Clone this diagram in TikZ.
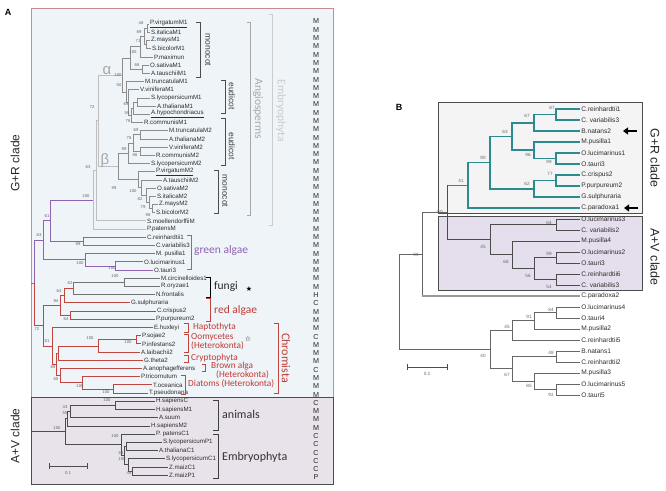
\documentclass[tikz,border=0pt]{standalone}
\usepackage{fontspec}
\setmainfont{Liberation Sans}
\newfontfamily\carlfont{Carlito}
\newfontfamily\symfont{DejaVu Sans}
\usetikzlibrary{arrows.meta}
\definecolor{boxA}{HTML}{EEF4F8}
\definecolor{boxAb}{HTML}{C48E8C}
\definecolor{avA}{HTML}{E8E2EB}
\definecolor{plantg}{HTML}{8C8C8C}
\definecolor{lightg}{HTML}{BEBEBE}
\definecolor{angg}{HTML}{A8A8A8}
\definecolor{embg}{HTML}{CBCBCB}
\definecolor{purp}{HTML}{8F62B2}
\definecolor{redc}{HTML}{C0473F}
\definecolor{redt}{HTML}{C23A34}
\definecolor{tealB}{HTML}{2B8B8E}
\definecolor{grB}{HTML}{F4F4F4}
\definecolor{avB}{HTML}{E5DEEC}
\begin{document}
\begin{tikzpicture}[x=1pt,y=-1pt,
  lf/.style={anchor=west,inner sep=0.8pt,font=\fontsize{6.2}{6.5}\selectfont,text=black!82},
  lfb/.style={anchor=west,inner sep=1.2pt,font=\fontsize{6.6}{7}\selectfont,text=black!82},
  sv/.style={inner sep=0pt,font=\fontsize{4.2}{4.5}\selectfont,text=black!60},
  svb/.style={inner sep=0pt,font=\fontsize{4.6}{5}\selectfont,text=black!60},
  pg/.style={draw=plantg,line width=0.6pt},
  sp/.style={draw=lightg,line width=0.7pt},
  gn/.style={draw=purp,line width=0.7pt},
  rd/.style={draw=redc,line width=0.7pt},
  fg/.style={draw=black!55,line width=0.6pt},
  avl/.style={draw=black!70,line width=0.6pt},
  tl/.style={draw=tealB,line width=1.6pt},
  bv/.style={draw=black!70,line width=0.8pt},
  bw/.style={draw=black!60,line width=0.8pt},
  cpl/.style={draw=black!40,line width=2.2pt},
  brk/.style={line width=0.8pt},
  ann/.style={anchor=west,inner sep=0pt,font=\carlfont\fontsize{11.5}{12}\selectfont},
  annr/.style={anchor=west,inner sep=0pt,font=\carlfont\fontsize{9.3}{9.5}\selectfont,text=redt},
  vtx/.style={rotate=-90,inner sep=0pt},
  mc/.style={inner sep=0pt,font=\fontsize{7.2}{7.2}\selectfont,text=black!85},
  side/.style={inner sep=0pt,font=\fontsize{12}{12}\selectfont,text=black!85},
]
\useasboundingbox (0,0) rectangle (666,490);

% ================= PANEL A =================
\path[fill=boxA,draw=boxAb,line width=0.8pt] (31,8) rectangle (333,397);
\path[fill=avA,draw=black!70,line width=0.8pt] (31,397) rectangle (333,484);
\node[font=\bfseries\fontsize{9}{9}\selectfont] (labA) at (8,12) {A};
\node[side,rotate=90] (grAlab) at (15,163) {G+R clade};
\node[side,rotate=90] (avAlab) at (15,436) {A+V clade};

\foreach \k/\x/\t in {
1/149/{\underline{P.virgatumM1}},
2/150/S.italicaM1,
3/150/Z.maysM1,
4/151/S.bicolorM1,
5/153/P.maximun,
6/149/O.sativaM1,
7/150/A.tauschiiM1,
8/144/M.truncatulaM1,
9/139/V.viniferaM1,
10/150/S.lycopersicumM1,
11/156/A.thalianaM1,
12/150/{\underline{A.hypochondriacus}},
13/143/R.communisM1,
14/168/M.truncatulaM2,
15/168/A.thalianaM2,
16/168/V.viniferaM2,
17/155/R.communisM2,
18/150/S.lycopersicumM2,
19/155/{\underline{P.virgatumM2}},
20/162/A.tauschiiM2,
21/156/O.sativaM2,
22/156/S.italicaM2,
23/158/Z.maysM2,
24/155/S.bicolorM2,
25/146/S.moellendorffiiM,
26/146/P.patensM,
27/146/C.reinhardtii1,
28/155/C.variabilis3,
29/155/M. pusilla1,
30/143/O.lucimarinus1,
31/153/O.tauri3,
32/160/M.circinelloides1,
33/160/R.oryzae1,
34/155/N.frontalis,
35/130/G.sulphuraria,
36/156/C.crispus2,
37/155/P.purpureum2,
38/153/E.huxleyi,
39/141/P.sojae2,
40/141/P.infestans2,
41/140/A.laibachii2,
42/143/G.theta2,
43/142/A.anophagefferens,
44/140/P.tricornutum,
45/152/T.oceanica,
46/148/T.pseudonana,
47/155/H.sapiensC,
48/155/H.sapiensM1,
49/158/A.suum,
50/150/H.sapiensM2,
51/155/P. patensC1,
52/162/S.lycopersicumP1,
53/158/A.thalianaC1,
54/165/S.lycopersicumC1,
55/168/Z.maizC1,
56/168/Z.maizP1}
  {\pgfmathsetmacro\yy{24+8.2*(\k-1)}
   \node[lf] (L\k) at (\x,\yy) {\t};}

% internal nodes of tree A
\foreach \nm/\x/\r in {
a1/147/1.5, a3/146/3.5, a2/144/2.5, a4/140/3.75, a5/142/6.5, a6/130/5.125,
e1/137/10.5, e2/133/11.25, e3/131/12.125, e4/128/10.5625, e5/126/9.28125, al/122/7.203,
b1/140/14.5, b2/140/16.5, b3/133/15.5, b4/128/16.75,
m1/152/23.5, m2/149/22.75, m3/146/21.875, m4/141/20.9375, m5/138/19.96875, be/118/18.359,
ab/98/12.781, n63/96/18.89, n100/93/22.445,
g1/83/27.5, g2/115/30.5, g3/85/29.75, n61/50/24.97, n63g/43/27.36,
f1/124/32.5, f2/73/33.25, f3/64/34.125, r1n/70/36.5, f4/60/35.31,
o1/136/39.5, o2/98/40.25, o3/58/41.125, d1/113/45.5, d2/82/44.75, d3/60/43.875,
c1/56/42.5, c2/52/40.25, rc/43/37.78, gr/34/32.57, gstem/31/32.57,
h1/115/47.5, h2/70/48.25, h3/67/49.125, p1/126/52.5, p2/132/55.5, p3/128/54.75,
p4/124/53.625, p5/121/52.31, av/65/50.72, avstem/31/50.72}
  {\pgfmathsetmacro\yy{24+8.2*(\r-1)}
   \coordinate (\nm) at (\x,\yy);}

\draw[pg] (a1)|-(L1.west) (a1)|-(L2.west) (a3)|-(L3.west) (a3)|-(L4.west)
  (a2)|-(a1) (a2)|-(a3) (a4)|-(a2) (a4)|-(L5.west) (a5)|-(L6.west) (a5)|-(L7.west)
  (a6)|-(a4) (a6)|-(a5)
  (e1)|-(L10.west) (e1)|-(L11.west) (e2)|-(e1) (e2)|-(L12.west) (e3)|-(e2) (e3)|-(L13.west)
  (e4)|-(L9.west) (e4)|-(e3) (e5)|-(L8.west) (e5)|-(e4) (al)|-(a6) (al)|-(e5)
  (b1)|-(L14.west) (b1)|-(L15.west) (b2)|-(L16.west) (b2)|-(L17.west) (b3)|-(b1) (b3)|-(b2)
  (b4)|-(b3) (b4)|-(L18.west)
  (m1)|-(L23.west) (m1)|-(L24.west) (m2)|-(L22.west) (m2)|-(m1) (m3)|-(L21.west) (m3)|-(m2)
  (m4)|-(L20.west) (m4)|-(m3) (m5)|-(L19.west) (m5)|-(m4) (be)|-(b4) (be)|-(m5);
\draw[sp] (ab)|-(al) (ab)|-(be) (n63)|-(ab) (n63)|-(L25.west) (n100)|-(n63) (n100)|-(L26.west);
\draw[gn] (g1)|-(L27.west) (g1)|-(L28.west) (g2)|-(L30.west) (g2)|-(L31.west)
  (g3)|-(L29.west) (g3)|-(g2) (n61)|-(n100) (n61)|-(g1) (n63g)|-(n61) (n63g)|-(g3)
  (gr)|-(n63g) (gstem)--(gr);
\draw[fg] (f1)|-(L32.west) (f1)|-(L33.west) (f2)|-(f1) (f2)|-(L34.west);
\draw[rd] (f3)|-(f2) (f3)|-(L35.west) (r1n)|-(L36.west) (r1n)|-(L37.west) (f4)|-(f3) (f4)|-(r1n)
  (o1)|-(L39.west) (o1)|-(L40.west) (o2)|-(o1) (o2)|-(L41.west) (o3)|-(o2) (o3)|-(L42.west)
  (d1)|-(L45.west) (d1)|-(L46.west) (d2)|-(L44.west) (d2)|-(d1) (d3)|-(L43.west) (d3)|-(d2)
  (c1)|-(o3) (c1)|-(d3) (c2)|-(L38.west) (c2)|-(c1) (rc)|-(f4) (rc)|-(c2) (gr)|-(rc);
\draw[avl] (h1)|-(L47.west) (h1)|-(L48.west) (h2)|-(h1) (h2)|-(L49.west) (h3)|-(h2) (h3)|-(L50.west)
  (p1)|-(L52.west) (p1)|-(L53.west) (p2)|-(L55.west) (p2)|-(L56.west) (p3)|-(L54.west) (p3)|-(p2)
  (p4)|-(p1) (p4)|-(p3) (p5)|-(L51.west) (p5)|-(p4) (av)|-(h3) (av)|-(p5) (avstem)--(av);

% support values A
\foreach \t/\x/\y [count=\i] in {48/141/23, 89/139/32, 71/138/41, 100/133/52, 68/137/65, 100/118/75,
  50/119/85, 69/126/104, 59/127/113, 78/128/121, 72/92/107, 69/136/130, 78/129/138, 99/124/149,
  86/135/155, 63/88/167, 99/114/188, 100/133/191, 82/140/199, 79/143/207, 98/148/215, 100/86/196,
  61/47/216, 63/39/235, 99/78/244, 100/80/263, 100/112/268, 100/115/276, 62/70/283, 64/59/291,
  94/56/301, 64/66/319, 72/37/329, 81/47/341, 100/128/342, 100/90/338, 69/53/367, 60/56/379,
  100/80/386, 100/106/392, 100/107/400, 43/65/407, 55/65/413, 100/57/428, 100/115/436,
  64/121/453, 100/122/459, 49/129/473}
  {\node[sv] (sa\i) at (\x,\y) {\t};}

\node[text=angg,font=\fontsize{15}{15}\selectfont,inner sep=0pt] (alpha) at (107,71) {α};
\node[text=angg,font=\fontsize{15}{15}\selectfont,inner sep=0pt] (beta) at (105,161) {β};

% scale bar A
\draw[black!70,line width=0.7pt] (49,463)--(49,469) (49,466)--(87,466) (87,463)--(87,469);
\node[sv] (scA) at (68,473) {0.1};

% brackets & annotations A
\draw[brk,black!70] (196,22)--(200,22)--(200,77)--(196,77);
\node[vtx,font=\fontsize{8.5}{9}\selectfont,text=black!75] (mono1) at (208,50) {monocot};
\draw[brk,black!70] (221,80)--(225,80)--(225,113)--(221,113);
\node[vtx,font=\fontsize{8.5}{9}\selectfont,text=black!75] (eud1) at (232,96) {eudicot};
\draw[brk,black!70] (221,118)--(225,118)--(225,165)--(221,165);
\node[vtx,font=\fontsize{8.5}{9}\selectfont,text=black!75] (eud2) at (232,146) {eudicot};
\draw[brk,black!70] (214,170)--(218,170)--(218,213)--(214,213);
\node[vtx,font=\fontsize{8.5}{9}\selectfont,text=black!75] (mono2) at (225,191) {monocot};
\draw[brk,angg] (247,22)--(250,22)--(250,215)--(247,215);
\node[vtx,font=\carlfont\fontsize{11.5}{12}\selectfont,text=angg] (angio) at (258,109) {Angiosperms};
\draw[brk,embg] (269,14)--(272,14)--(272,225)--(269,225);
\node[vtx,font=\carlfont\fontsize{11.5}{12}\selectfont,text=embg] (embA) at (281,111) {Embryophyta};

\draw[brk,purp] (187,235)--(191,235)--(191,269)--(187,269);
\node[ann,text=purp] (green) at (194,250) {green algae};
\draw[brk,black] (206,277)--(210,277)--(210,297)--(206,297);
\node[ann,text=black!85] (fungi) at (214,287) {fungi};
\node[font=\symfont\fontsize{7}{7}\selectfont,inner sep=0pt] (bstar) at (249,289) {★};
\draw[brk,redc] (206,298)--(210,298)--(210,321)--(206,321);
\node[ann,text=redt] (redal) at (214,310) {red algae};

\draw[brk,redc] (184,323)--(188,323)--(188,332)--(184,332);
\node[annr] (hapto) at (193,327) {Haptothyta};
\draw[brk,redc] (184,334)--(188,334)--(188,352)--(184,352);
\node[annr] (oomy) at (191,337) {Oomycetes};
\node[annr] (oomy2) at (191,346) {(Heterokonta)};
\node[font=\symfont\fontsize{7}{7}\selectfont,inner sep=0pt] (wstar) at (248,339) {☆};
\draw[brk,redc] (184,355)--(188,355)--(188,362)--(184,362);
\node[annr] (crypto) at (191,358) {Cryptophyta};
\draw[brk,redc] (202,364)--(205,364)--(205,371)--(202,371);
\node[annr] (brown) at (211,366) {Brown alga};
\node[annr] (brown2) at (216,375) {(Heterokonta)};
\draw[brk,redc] (181,375)--(185,375)--(185,394)--(181,394);
\node[annr] (diat) at (188,384) {Diatoms (Heterokonta)};
\draw[brk,redc] (274,323)--(278,323)--(278,393)--(274,393);
\node[vtx,font=\carlfont\fontsize{12}{12}\selectfont,text=redt] (chrom) at (286,358) {Chromista};

\draw[brk,black!75] (213,400)--(218,400)--(218,430)--(213,430);
\node[ann,text=black!80,font=\carlfont\fontsize{12}{12}\selectfont] (anim) at (222,414) {animals};
\draw[brk,black!75] (213,434)--(218,434)--(218,478)--(213,478);
\node[ann,text=black!80,font=\carlfont\fontsize{12}{12}\selectfont] (embAV) at (222,457) {Embryophyta};

% compartment column
\foreach \l [count=\i] in {M,M,M,M,M,M,M,M,M,M,M,M,M,M,M,M,M,M,M,M,M,M,M,M,M,M,M,M,M,M,M,M,M,
  H,C,M,M,M,C,M,M,M,C,M,M,M,C,M,M,M,C,C,C,C,C,P}
  {\pgfmathsetmacro\yy{21.5+8.29*(\i-1)}
   \node[mc] (mc\i) at (316,\yy) {\l};}

% ================= PANEL B =================
\node[font=\bfseries\fontsize{9}{9}\selectfont] (labB) at (399,107) {B};
\path[fill=grB,draw=black!70,line width=0.8pt] (438,102) rectangle (642,213);
\path[fill=avB,draw=black!70,line width=0.8pt] (438,216) rectangle (642,290);
\node[side,rotate=-90,font=\fontsize{12.5}{12.5}\selectfont] (grBlab) at (655,158) {G+R clade};
\node[side,rotate=-90,font=\fontsize{12.5}{12.5}\selectfont] (avBlab) at (655,257) {A+V clade};

\foreach \t [count=\k] in {C.reinhardtii1, C. variabilis3, B.natans2, M.pusilla1, O.lucimarinus1,
  O.tauri3, C.crispus2, P.purpureum2, G.sulphuraria, C.paradoxa1, O.lucimarinus3, C. variabilis2,
  M.pusilla4, O.lucimarinus2, O.tauri3, C.reinhardtii6, C. variabilis3, C.paradoxa2,
  O.lucimarinus4, O.tauri4, M.pusilla2, C.reinhardtii5, B.natans1, C.reinhardtii2, M.pusilla3,
  O.lucimarinus5, O.tauri5}
  {\pgfmathsetmacro\yy{109+11*(\k-1)}
   \node[lfb] (B\k) at (580,\yy) {\t};}

\foreach \nm/\x/\r in {
t87/556/1.5, t67/534/2.25, t99/556/5.5, t96/534/4.75, t63/512/3.5, t77/556/7.5, t62/534/8.25,
t90/490/5.875, t41/468/7.9375,
v64/556/11.5, v99/556/14.5, v54/556/16.5, v56/534/15.5, v68/512/14.25, v45/490/12.875,
n60/447/10.406, n99/422/14.2,
w84/556/19.5, w91/534/20.25, w45/512/21.125, w48/556/23.5, w92/556/26.5, w85/534/25.75,
w67/512/24.625, w40/490/22.875, rootB/399/18.54}
  {\pgfmathsetmacro\yy{109+11*(\r-1)}
   \coordinate (\nm) at (\x,\yy);}

\draw[tl] (t87)|-(B1.west) (t87)|-(B2.west) (t67)|-(t87) (t67)|-(B3.west)
  (t99)|-(B5.west) (t99)|-(B6.west) (t96)|-(B4.west) (t96)|-(t99) (t63)|-(t67) (t63)|-(t96)
  (t77)|-(B7.west) (t77)|-(B8.west) (t62)|-(t77) (t62)|-(B9.west) (t90)|-(t63) (t90)|-(t62)
  (t41)|-(t90) (t41)|-(B10.west) (n60|-t41)--(t41);
\draw[bv] (v64)|-(B11.west) (v64)|-(B12.west) (v99)|-(B14.west) (v99)|-(B15.west)
  (v54)|-(B16.west) (v54)|-(B17.west) (v56)|-(v99) (v56)|-(v54) (v68)|-(B13.west) (v68)|-(v56)
  (v45)|-(v64) (v45)|-(v68) (n60)|-(v45) (n60)--(n60|-t41);
\draw[bw] (w84)|-(B19.west) (w84)|-(B20.west) (w91)|-(w84) (w91)|-(B21.west) (w45)|-(w91) (w45)|-(B22.west)
  (w48)|-(B23.west) (w48)|-(B24.west) (w92)|-(B26.west) (w92)|-(B27.west) (w85)|-(B25.west) (w85)|-(w92)
  (w67)|-(w48) (w67)|-(w85) (w40)|-(w45) (w40)|-(w67)
  (rootB)|-(n99) (rootB)|-(w40) (n99)|-(n60) (n99)--(n99|-B18.west);
\draw[cpl] (n99|-B18.west)--(B18.west);

\foreach \t/\x/\y [count=\i] in {87/552/108, 67/527/116, 63/505/132, 96/528/155, 99/549/162,
  77/550/174, 62/527/184, 90/483/158, 41/461/181, 64/549/223, 45/483/247, 68/506/262, 99/549/254,
  56/528/276, 54/549/287, 84/551/310, 91/529/317, 45/507/327, 40/483/356, 48/551/353, 67/507/375,
  85/529/386, 92/551/395, 99/416/255, 60/440/212}
  {\node[svb] (sb\i) at (\x,\y) {\t};}

% arrows
\coordinate (ar1s) at (637,131); \coordinate (ar1e) at (623,131);
\coordinate (ar2s) at (638,208); \coordinate (ar2e) at (624,208);
\draw[-{Triangle[length=5pt,width=7pt]},line width=2.2pt] (ar1s)--(ar1e);
\draw[-{Triangle[length=5pt,width=7pt]},line width=2.2pt] (ar2s)--(ar2e);

% scale bar B
\draw[black!70,line width=0.7pt] (407,364)--(407,370) (407,367)--(447,367) (447,364)--(447,370);
\node[svb] (scB) at (427,374) {0.2};
\end{tikzpicture}
\end{document}
